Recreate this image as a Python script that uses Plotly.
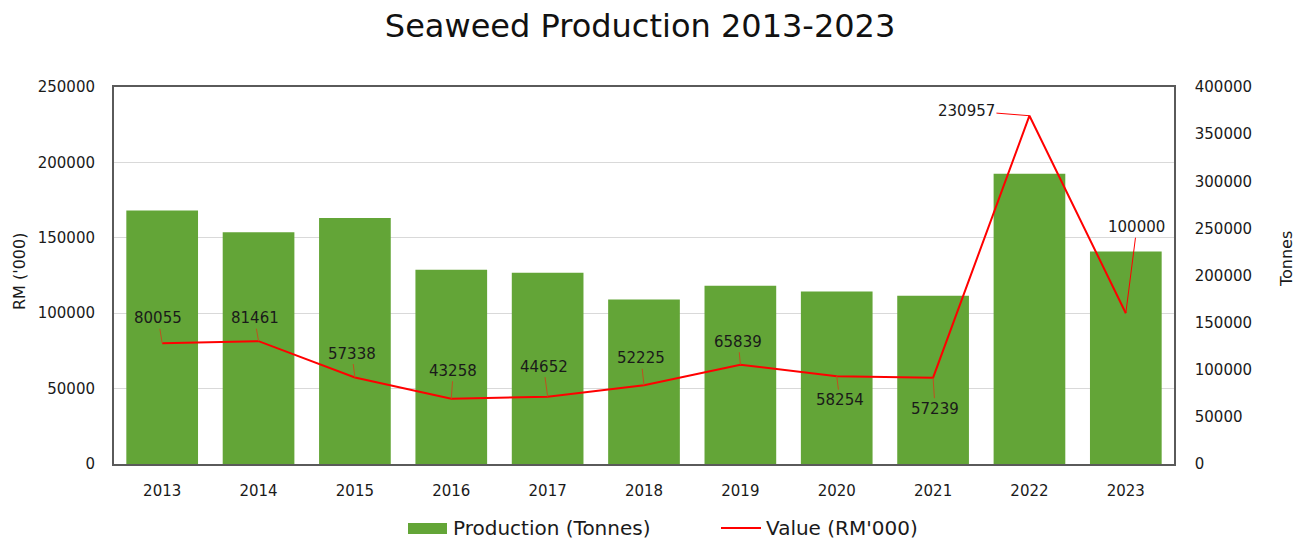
import plotly.graph_objects as go

years = ["2013", "2014", "2015", "2016", "2017", "2018", "2019", "2020", "2021", "2022", "2023"]
production_tonnes = [269000, 246000, 261000, 206000, 203000, 174600, 189000, 183000, 178600, 308000, 225500]
value_rm000 = [80055, 81461, 57338, 43258, 44652, 52225, 65839, 58254, 57239, 230957, 100000]
label_dx = [-4, -4, -3, 2, -4, -3, -2, 3, 2, -63, 11]
label_dy = [-25, -23, -24, -28, -30, -27, -23, 24, 31, -5, -86]
left_ticks = [0, 50000, 100000, 150000, 200000, 250000]
right_ticks = [0, 50000, 100000, 150000, 200000, 250000, 300000, 350000, 400000]

FONT = "DejaVu Sans"
GREEN = "#63a537"
RED = "#ff0000"
FRAME = "#5a5a5a"
TXT = "#1a1a1a"

fig = go.Figure()
fig.add_trace(go.Bar(
    x=years, y=production_tonnes, name="Production (Tonnes)",
    marker=dict(color=GREEN, line=dict(width=0)), yaxis="y",
))
fig.add_trace(go.Scatter(
    x=years, y=value_rm000, name="Value (RM'000)", mode="lines",
    line=dict(color=RED, width=2), yaxis="y2",
))

annotations = []
for i, (v, dx, dy) in enumerate(zip(value_rm000, label_dx, label_dy)):
    long_leader = abs(dx) > 30 or abs(dy) > 50
    annotations.append(dict(
        x=i, y=v, xref="x", yref="y2", text=str(v),
        showarrow=True, arrowhead=0, arrowwidth=1,
        arrowcolor=RED if long_leader else "#c0501f",
        ax=dx, ay=dy, font=dict(family=FONT, size=15, color=TXT),
        standoff=0,
    ))

# plot area on screen: x 114..1174 px, y 87..464 px
def px_x(p):
    return (p - 114) / 1060.0

def px_y(p):
    return (464 - p) / 377.0

annotations.append(dict(
    x=px_x(19), y=px_y(272), xref="paper", yref="paper", text="RM ('000)",
    xanchor="center", yanchor="middle",
    textangle=-90, showarrow=False, font=dict(family=FONT, size=16, color=TXT),
))
annotations.append(dict(
    x=px_x(1286), y=px_y(259), xref="paper", yref="paper", text="Tonnes",
    xanchor="center", yanchor="middle",
    textangle=-90, showarrow=False, font=dict(family=FONT, size=16, color=TXT),
))

# custom legend
shapes = [
    dict(type="rect", xref="paper", yref="paper",
         x0=px_x(408), x1=px_x(447), y0=px_y(534), y1=px_y(523),
         fillcolor=GREEN, line=dict(width=0)),
    dict(type="line", xref="paper", yref="paper",
         x0=px_x(721), x1=px_x(761), y0=px_y(528), y1=px_y(528),
         line=dict(color=RED, width=2)),
]
annotations.append(dict(
    x=px_x(451), y=px_y(528), xref="paper", yref="paper", text="Production (Tonnes)",
    xanchor="left", yanchor="middle", showarrow=False,
    font=dict(family=FONT, size=20, color=TXT),
))
annotations.append(dict(
    x=px_x(764), y=px_y(528), xref="paper", yref="paper", text="Value (RM'000)",
    xanchor="left", yanchor="middle", showarrow=False,
    font=dict(family=FONT, size=20, color=TXT),
))

fig.update_layout(
    width=1301, height=542,
    margin=dict(l=114, r=127, t=87, b=78, autoexpand=False),
    paper_bgcolor="white", plot_bgcolor="white",
    title=dict(text="Seaweed Production 2013-2023", x=0.492, xanchor="center",
               y=0.952, yanchor="middle",
               font=dict(family=FONT, size=32, color="#111111")),
    font=dict(family=FONT, size=15, color=TXT),
    bargap=0.256,
    showlegend=False,
    xaxis=dict(type="category", range=[-0.5, 10.5], showline=True, linecolor=FRAME,
               linewidth=1.5, mirror=True, showgrid=False, ticks="",
               ticklabelstandoff=12, automargin=False,
               tickfont=dict(family=FONT, size=15)),
    yaxis=dict(side="right", range=[0, 400000], tickvals=right_ticks, tickformat="d",
               showgrid=False, zeroline=False, showline=True, linecolor=FRAME,
               linewidth=1.5, mirror=True, ticklabelstandoff=16, automargin=False,
               tickfont=dict(family=FONT, size=15)),
    yaxis2=dict(side="left", overlaying="y", range=[0, 250000], tickvals=left_ticks,
                tickformat="d", showgrid=True, gridcolor="#d9d9d9", gridwidth=1,
                zeroline=False, showline=False, ticklabelstandoff=18, automargin=False,
                tickfont=dict(family=FONT, size=15)),
    annotations=annotations,
    shapes=shapes,
)

fig.write_html(
    "out.html",
    config={"displayModeBar": False},
    post_script="document.body.style.margin='0';document.body.style.overflow='hidden';",
)
